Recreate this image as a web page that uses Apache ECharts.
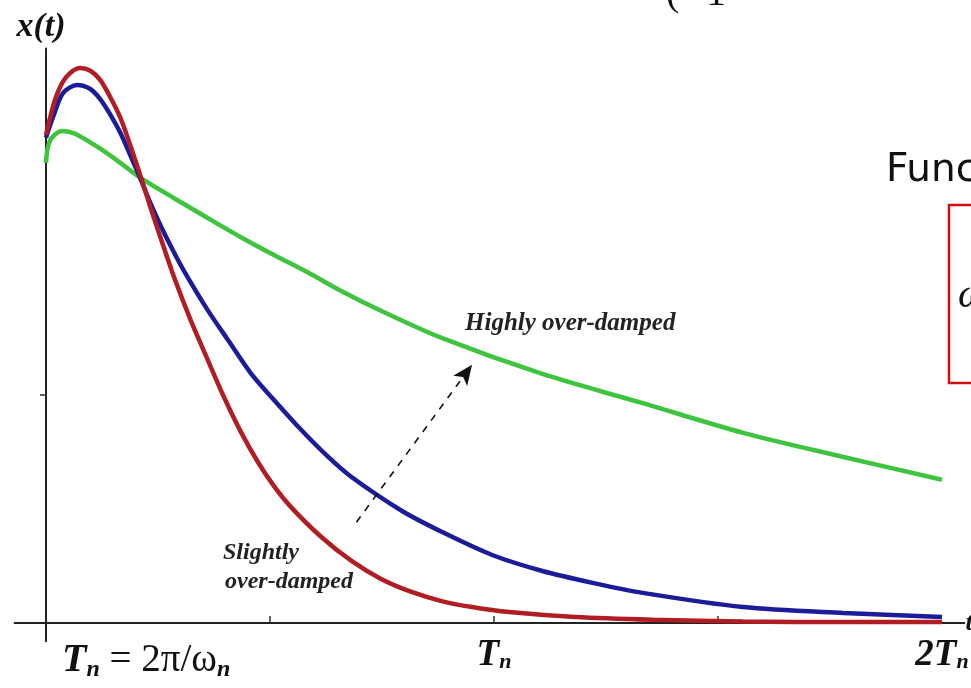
<!DOCTYPE html>
<html>
<head>
<meta charset="utf-8">
<script src="https://cdn.jsdelivr.net/npm/echarts@6/dist/echarts.min.js"></script>
<style>
html,body{margin:0;padding:0;background:#fff;}
#chart{width:971px;height:688px;}
</style>
</head>
<body>
<div id="chart"></div>
<script>
// time in units of Tn, response x(t) (normalised)
const redT   = [0,0.009,0.020,0.036,0.054,0.076,0.099,0.121,0.143,0.166,0.188,0.211,0.233,0.256,0.285,0.323,0.361,0.397,0.435,0.473,0.509,0.547,0.614,0.682,0.749,0.816,0.883,0.951,1.034,1.182,1.354,1.556,1.780,2.0];
const redX   = [1.070,1.107,1.147,1.184,1.206,1.217,1.211,1.191,1.154,1.108,1.048,0.980,0.912,0.844,0.761,0.664,0.577,0.496,0.419,0.353,0.300,0.254,0.189,0.136,0.096,0.068,0.048,0.035,0.024,0.013,0.007,0.003,0.002,0.002];
const blueT  = [0,0.016,0.038,0.070,0.099,0.121,0.143,0.166,0.188,0.211,0.233,0.256,0.285,0.307,0.361,0.406,0.457,0.509,0.570,0.630,0.682,0.794,0.883,0.996,1.108,1.220,1.332,1.556,1.780,2.0];
const blueX  = [1.064,1.110,1.162,1.180,1.171,1.149,1.116,1.075,1.026,0.974,0.921,0.871,0.814,0.774,0.686,0.621,0.548,0.489,0.423,0.364,0.320,0.246,0.200,0.149,0.114,0.088,0.066,0.035,0.022,0.013];
const greenT = [0,0.004,0.013,0.036,0.065,0.121,0.166,0.211,0.285,0.361,0.435,0.509,0.586,0.659,0.749,0.883,1.108,1.332,1.556,1.780,2.0];
const greenX = [1.009,1.042,1.064,1.079,1.073,1.040,1.009,0.976,0.932,0.888,0.846,0.807,0.768,0.728,0.684,0.625,0.546,0.482,0.417,0.364,0.314];
const xTickValues = [0.5, 1, 1.5];
const xLabelValues = [1, 2];
const xLabelTexts = {1: '{b|T}{s|n}', 2: '{b|2T}{s|n}'};
const yTickValues = [0.5];
const arrowStart = [0.693, 0.221];
const arrowEnd = [0.951, 0.566];

const zip = (a, b) => a.map((v, i) => [v, b[i]]);
const serif = 'Liberation Serif';

const chart = echarts.init(document.getElementById('chart'), null, {renderer: 'canvas'});
const option = {
  backgroundColor: '#ffffff',
  animation: false,
  grid: {left: 14.6, top: 48.4, width: 949.8, height: 592.8, containLabel: false, outerBoundsMode: 'none'},
  xAxis: {
    type: 'value', min: -0.07, max: 2.05,
    name: 't', nameLocation: 'end', nameGap: 1,
    nameTextStyle: {fontFamily: serif, fontStyle: 'italic', fontWeight: 'bold', fontSize: 26, color: '#111', verticalAlign: 'middle'},
    axisLine: {onZero: true, lineStyle: {color: '#222', width: 2}},
    axisTick: {show: true, inside: true, length: 7, customValues: xTickValues, lineStyle: {color: '#333', width: 1.5}},
    axisLabel: {
      show: true, margin: -4, customValues: xLabelValues,
      formatter: v => xLabelTexts[v] || '',
      rich: {
        b: {fontFamily: serif, fontStyle: 'italic', fontWeight: 'bold', fontSize: 37, color: '#111'},
        s: {fontFamily: serif, fontStyle: 'italic', fontWeight: 'bold', fontSize: 22, color: '#111', padding: [14, 0, 0, 0]}
      }
    },
    splitLine: {show: false}
  },
  yAxis: {
    type: 'value', min: -0.04, max: 1.26,
    name: 'x(t)', nameLocation: 'end', nameGap: 4,
    nameTextStyle: {fontFamily: serif, fontStyle: 'italic', fontWeight: 'bold', fontSize: 34, color: '#111', padding: [0, 10, 0, 0]},
    axisLine: {onZero: true, lineStyle: {color: '#222', width: 2}},
    axisTick: {show: true, inside: false, length: 6, customValues: yTickValues, lineStyle: {color: '#333', width: 1.5}},
    axisLabel: {show: false},
    splitLine: {show: false}
  },
  series: [
    {type: 'line', name: 'highly', data: zip(greenT, greenX), showSymbol: false, smooth: 0.3,
     lineStyle: {color: '#3ec43e', width: 4.5}, z: 3},
    {type: 'line', name: 'mid', data: zip(blueT, blueX), showSymbol: false, smooth: 0.3,
     lineStyle: {color: '#1c1c9a', width: 4.5}, z: 4,
     markLine: {
       silent: true, symbol: ['none', 'arrow'], symbolSize: [13, 20],
       lineStyle: {type: [7, 7], color: '#111', width: 1.6},
       label: {show: false},
       data: [[{coord: arrowStart}, {coord: arrowEnd}]]
     }},
    {type: 'line', name: 'slightly', data: zip(redT, redX), showSymbol: false, smooth: 0.3,
     lineStyle: {color: '#b01e24', width: 4.5}, z: 5}
  ],
  graphic: [
    {type: 'text', left: 62, top: 641, style: {
      text: '{b|T}{s|n}{r| = 2π/ω}{s|n}',
      rich: {
        b: {fontFamily: serif, fontStyle: 'italic', fontWeight: 'bold', fontSize: 40, fill: '#111'},
        r: {fontFamily: serif, fontSize: 39, fill: '#111'},
        s: {fontFamily: serif, fontStyle: 'italic', fontWeight: 'bold', fontSize: 24, fill: '#111', padding: [18, 0, 0, 0]}
      }}},
    {type: 'text', left: 465, top: 311, style: {text: 'Highly over-damped', fontFamily: serif, fontStyle: 'italic', fontWeight: 'bold', fontSize: 25, fill: '#222'}},
    {type: 'text', left: 223, top: 541, style: {text: 'Slightly', fontFamily: serif, fontStyle: 'italic', fontWeight: 'bold', fontSize: 24, fill: '#222'}},
    {type: 'text', left: 225, top: 570, style: {text: 'over-damped', fontFamily: serif, fontStyle: 'italic', fontWeight: 'bold', fontSize: 24, fill: '#222'}},
    {type: 'text', left: 886, top: 151, style: {text: 'Func', fontFamily: 'DejaVu Sans', fontSize: 39, fill: '#111'}},
    {type: 'rect', shape: {x: 949, y: 205, width: 60, height: 178}, style: {fill: 'none', stroke: '#d01010', lineWidth: 2.5}},
    {type: 'text', left: 958, top: 276, style: {text: 'ω', fontFamily: serif, fontStyle: 'italic', fontSize: 40, fill: '#111'}},
    {type: 'text', left: 666, top: -26, style: {text: '(', fontFamily: serif, fontSize: 40, fill: '#111'}},
    {type: 'text', left: 706, top: -26, style: {text: '1', fontFamily: serif, fontSize: 40, fill: '#111'}}
  ]
};
chart.setOption(option);
</script>
</body>
</html>
